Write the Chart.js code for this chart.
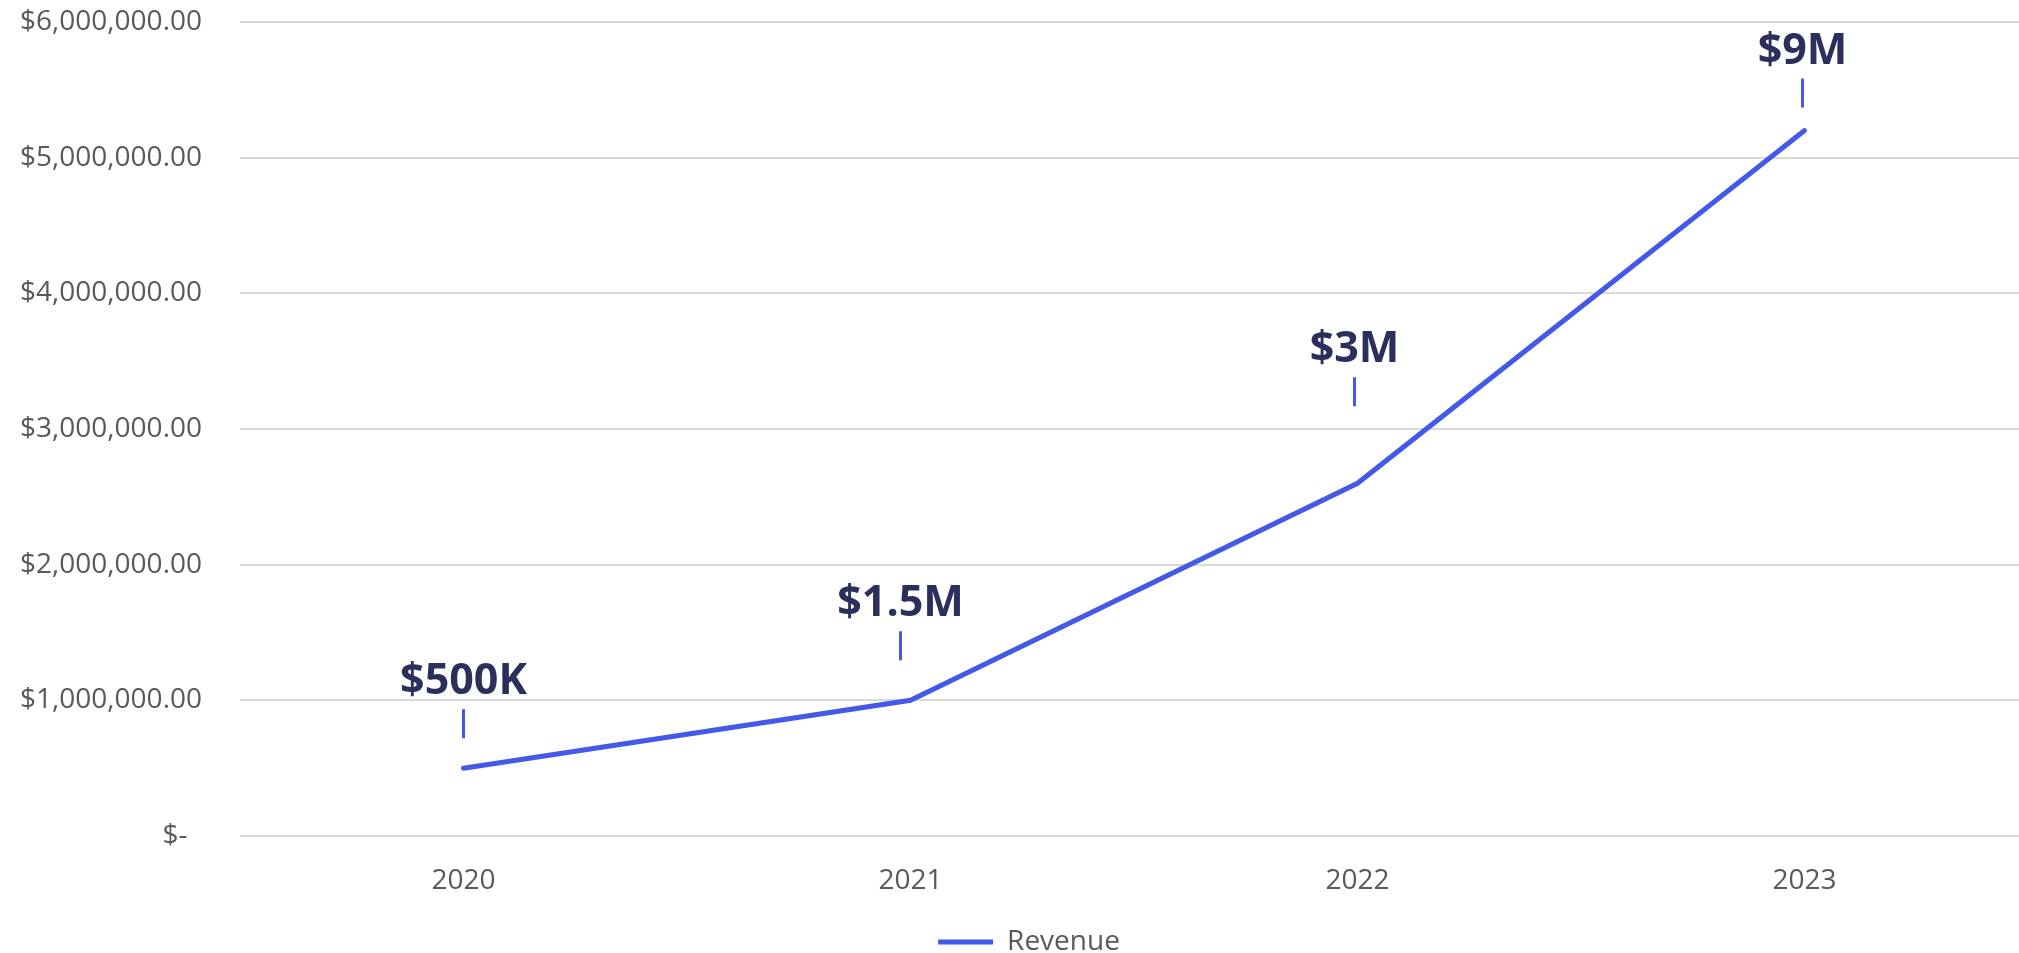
<!DOCTYPE html>
<html lang="en">
<head>
  <meta charset="UTF-8" />
  <title>Revenue</title>
  <script src="https://cdn.jsdelivr.net/npm/chart.js"></script>
  <style>
    html, body { margin: 0; padding: 0; background: #fff; overflow: hidden; }
    #wrap { width: 2019px; height: 953px; overflow: hidden; }
  </style>
</head>
<body>
  <div id="wrap">
    <canvas id="revChart" width="2028" height="953"></canvas>
  </div>

  <script>
    // Chart data
    const years = ["2020", "2021", "2022", "2023"];
    const revenue = [500000, 1000000, 2600000, 5200000];
    const callouts = ["$500K", "$1.5M", "$3M", "$9M"];
    const yTicks = [0, 1000000, 2000000, 3000000, 4000000, 5000000, 6000000];

    // callout placement (pixels, relative to each point)
    const calloutDx = [0, -10, -3, -2];
    const calloutDy = [30, 40, 77, 23];

    const blue = "#4559e8";
    const navy = "#2b2f5c";
    const grey = "#595959";
    const axisFont = { family: "'Open Sans'", size: 28 };

    const money = v => v === 0 ? "$-  " :
      "$" + v.toLocaleString("en-US", { minimumFractionDigits: 2, maximumFractionDigits: 2 });

    // draws the "$1.5M" style labels with a small tick under each
    const calloutPlugin = {
      id: "callouts",
      afterDatasetsDraw(chart) {
        const ctx = chart.ctx;
        const meta = chart.getDatasetMeta(0);
        ctx.save();
        meta.data.forEach((pt, i) => {
          const x = pt.x + calloutDx[i];
          const yBottom = pt.y - calloutDy[i];
          const yTop = yBottom - 29;
          ctx.strokeStyle = blue;
          ctx.lineWidth = 3;
          ctx.beginPath();
          ctx.moveTo(x, yBottom);
          ctx.lineTo(x, yTop);
          ctx.stroke();
          ctx.fillStyle = navy;
          ctx.font = "bold 43px 'Open Sans'";
          ctx.textAlign = "center";
          ctx.textBaseline = "alphabetic";
          ctx.fillText(callouts[i], x, yTop - 15);
        });
        ctx.restore();
      }
    };

    // nudge the legend a little to the right, like the original
    const legendNudge = {
      id: "legendNudge",
      afterLayout(chart) {
        if (chart.legend) {
          chart.legend.left += 15;
          chart.legend.right += 15;
        }
      }
    };

    new Chart(document.getElementById("revChart"), {
      type: "line",
      data: {
        labels: years,
        datasets: [{
          label: "Revenue",
          data: revenue,
          borderColor: blue,
          backgroundColor: blue,
          borderWidth: 5,
          pointRadius: 0,
          tension: 0,
          fill: false,
          borderCapStyle: "round"
        }]
      },
      options: {
        responsive: false,
        animation: false,
        layout: { padding: { top: 22, left: 0, right: 0, bottom: -13 } },
        plugins: {
          tooltip: { enabled: false },
          legend: {
            position: "bottom",
            labels: {
              color: grey,
              font: axisFont,
              boxWidth: 55,
              boxHeight: 5,
              padding: 0,
              generateLabels: chart => [{
                text: "Revenue",
                fillStyle: blue,
                strokeStyle: blue,
                lineWidth: 0,
                fontColor: grey,
                datasetIndex: 0
              }]
            }
          }
        },
        scales: {
          x: {
            offset: true,
            afterFit: s => { s.height = 92; },
            grid: { display: false, drawTicks: false },
            border: { display: false },
            ticks: {
              color: grey,
              font: axisFont,
              padding: 28,
              maxRotation: 0
            }
          },
          y: {
            min: 0,
            max: 6000000,
            afterFit: s => { s.width = 240; s.paddingTop = 0; s.paddingBottom = 0; },
            afterBuildTicks: s => { s.ticks = yTicks.map(v => ({ value: v })); },
            grid: { color: "#d9d9d9", lineWidth: 2, drawTicks: false },
            border: { display: false },
            ticks: {
              color: grey,
              font: axisFont,
              padding: 38,
              callback: v => money(v)
            }
          }
        }
      },
      plugins: [calloutPlugin, legendNudge]
    });
  </script>
</body>
</html>
